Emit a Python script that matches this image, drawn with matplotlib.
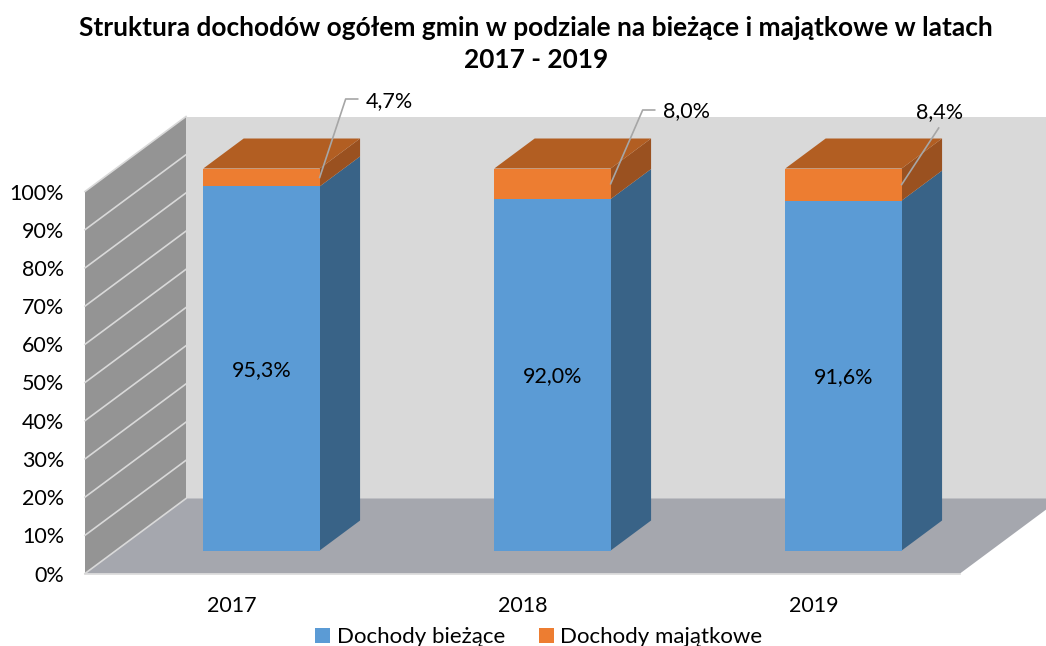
import matplotlib
matplotlib.use('Agg')
import matplotlib.pyplot as plt
from matplotlib.patches import Polygon, Patch

plt.rcParams['font.family'] = ['Lato', 'DejaVu Sans']

title = 'Struktura dochodów ogółem gmin w podziale na bieżące i majątkowe w latach\n2017 - 2019'
years = ['2017', '2018', '2019']
biezace = [95.3, 92.0, 91.6]
majatkowe = [4.7, 8.0, 8.4]
biezace_lab = ['95,3%', '92,0%', '91,6%']
majatkowe_lab = ['4,7%', '8,0%', '8,4%']
ticks = [0, 10, 20, 30, 40, 50, 60, 70, 80, 90, 100]

# colours
wall = '#949494'
back = '#d9d9d9'
floor = '#a5a7ae'
blue = ['#5b9bd5', '#396387']
orange = ['#ed7d31', '#9a5120', '#b25e22']

# oblique projection to pixels
X0, Y0 = 85, 573.5
CAT_W = 291
PCT_H = 3.82
DX, DY = 101, -75
BAR_HALF = 0.2
D1, D2 = 23 / 75, 53 / 75
FLOOR_END = 875 / CAT_W


def proj(cat, pct, depth=0):
    return (X0 + cat * CAT_W + DX * depth, Y0 - pct * PCT_H + DY * depth)


def poly(ax, pts, color, z, ec='none', lw=0):
    ax.add_patch(Polygon(pts, closed=True, fc=color, ec=ec, lw=lw, zorder=z))


fig = plt.figure(figsize=(10.46, 6.46), dpi=100)
ax = fig.add_axes([0, 0, 1, 1])
ax.set_xlim(0, 1046)
ax.set_ylim(646, 0)
ax.axis('off')

# back wall, side wall, floor
poly(ax, [proj(0, 0, 1), proj(3.5, 0, 1), proj(3.5, 100, 1), proj(0, 100, 1)], back, 1)
poly(ax, [proj(0, 0, 0), proj(0, 0, 1), proj(0, 100, 1), proj(0, 100, 0)], wall, 2)
poly(ax, [proj(0, 0, 0), proj(FLOOR_END, 0, 0), proj(FLOOR_END, 0, 1), proj(0, 0, 1)], floor, 2)
for t in ticks:
    p0 = proj(0, t, 0)
    p1 = proj(0, t, 1)
    ax.plot([p0[0], p1[0]], [p0[1], p1[1]], color='#d9d9d9', lw=1.2, zorder=3)
    ax.text(64, p0[1] + 2, '%d%%' % t, ha='right', va='center', fontsize=15.5, color='black')
p0, p1 = proj(0, 0, 0), proj(FLOOR_END, 0, 0)
ax.plot([p0[0], p1[0]], [p0[1], p1[1]], color='#d9d9d9', lw=1.2, zorder=3)

for i, y in enumerate(years):
    c = i + 0.5
    l, r = c - BAR_HALF, c + BAR_HALF
    a, b = biezace[i], majatkowe[i]
    top = a + b
    # blue segment
    poly(ax, [proj(r, 0, D1), proj(r, 0, D2), proj(r, a, D2), proj(r, a, D1)], blue[1], 4)
    poly(ax, [proj(l, 0, D1), proj(r, 0, D1), proj(r, a, D1), proj(l, a, D1)], blue[0], 5)
    # orange segment
    poly(ax, [proj(r, a, D1), proj(r, a, D2), proj(r, top, D2), proj(r, top, D1)], orange[1], 4)
    poly(ax, [proj(l, top, D1), proj(r, top, D1), proj(r, top, D2), proj(l, top, D2)], orange[2], 4)
    poly(ax, [proj(l, a, D1), proj(r, a, D1), proj(r, top, D1), proj(l, top, D1)], orange[0], 5)

    lx, ly = proj(c, a / 2, D1)
    ax.text(lx, ly + 1.5, biezace_lab[i], ha='center', va='center', fontsize=15.5, color='black', zorder=7)
    ax.text(proj(c, 0, 0)[0] + 1.5, 606, y, ha='center', va='center', fontsize=15.5, color='black')

    # leader lines to the small segment labels
    sx, sy = proj(r, a + b / 2, D1)
    if i == 0:
        tx, ty = sx + 70, 101
        ax.plot([sx, sx + 26, sx + 38], [sy, ty - 2, ty - 2], color='#a6a6a6', lw=1.2, zorder=6)
    elif i == 1:
        tx, ty = sx + 76, 111
        ax.plot([sx, sx + 32, sx + 44], [sy, ty - 1, ty - 1], color='#a6a6a6', lw=1.2, zorder=6)
    else:
        tx, ty = sx + 38, 112
        ax.plot([sx, sx + 37], [sy, 128], color='#a6a6a6', lw=1.2, zorder=6)
    ax.text(tx, ty, majatkowe_lab[i], ha='center', va='center', fontsize=15.5, color='black', zorder=7)

ax.text(536, 44, title, ha='center', va='center', fontsize=18.9, fontweight='bold',
        color='black', linespacing=1.38)

handles = [Patch(fc=blue[0], label='Dochody bieżące'), Patch(fc=orange[0], label='Dochody majątkowe')]
ax.legend(handles=handles, ncol=2, loc='center', bbox_to_anchor=(539, 637),
          bbox_transform=ax.transData, frameon=False, fontsize=16, handlelength=0.65,
          handleheight=0.65, handletextpad=0.3, columnspacing=1.55, borderpad=0)

plt.savefig('out.png', dpi=100)
